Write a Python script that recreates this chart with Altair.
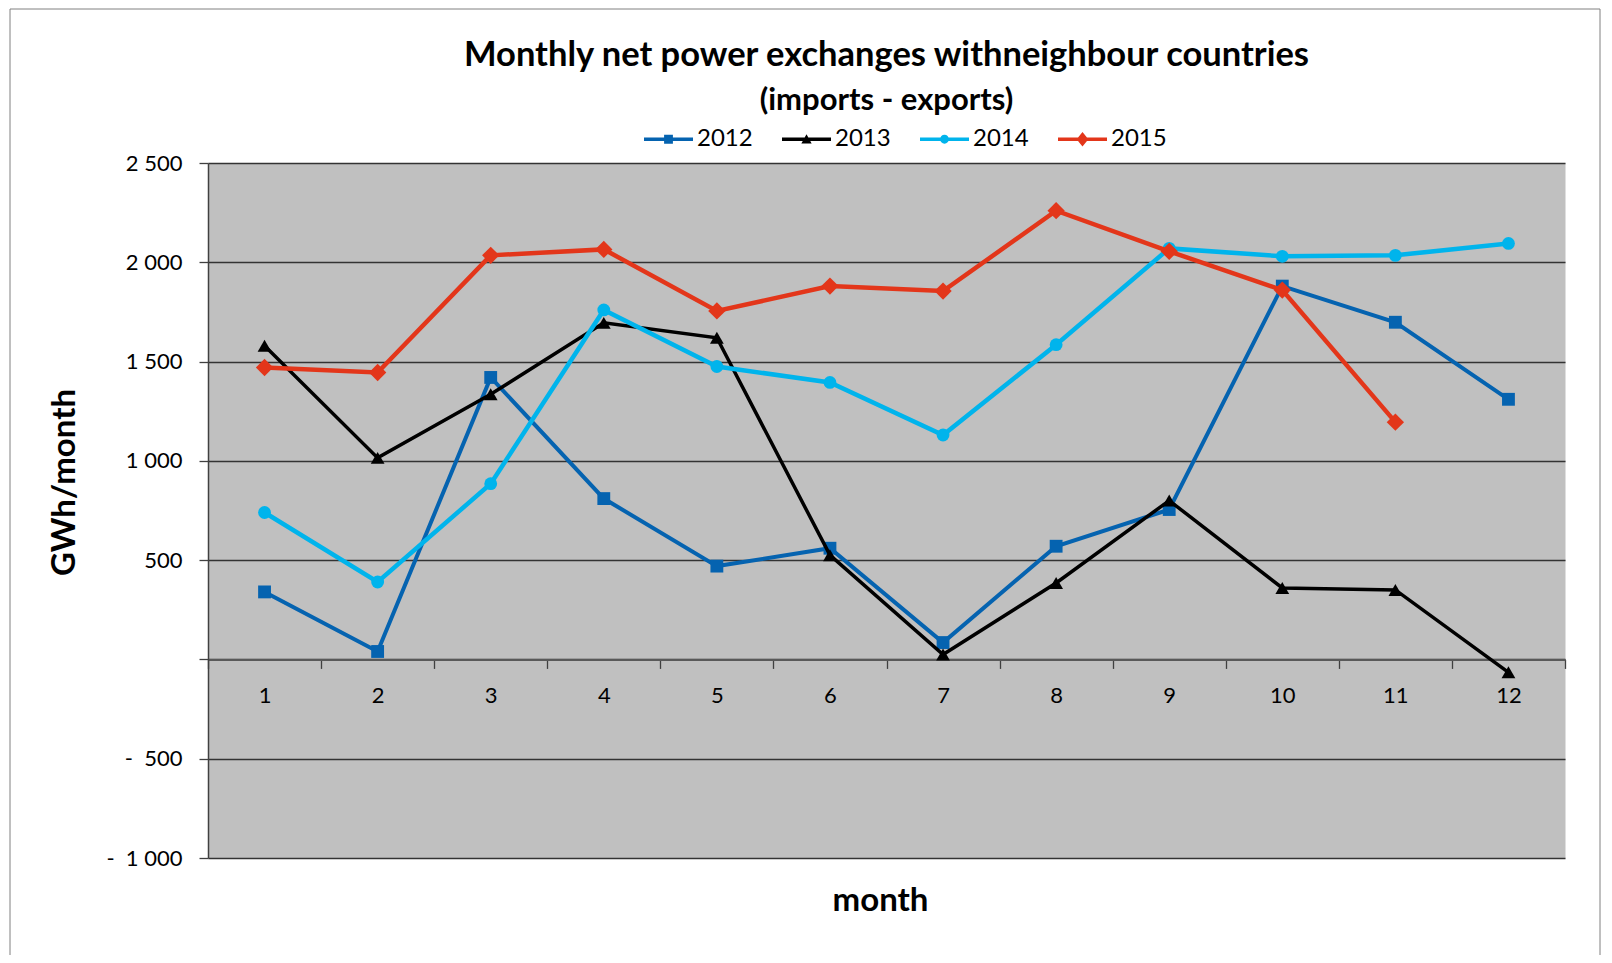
import altair as alt
import pandas as pd

# ---- data ----
months = list(range(1, 13))
years = ["2012", "2013", "2014", "2015"]
v2012 = [340, 40, 1420, 810, 470, 560, 85, 570, 755, 1880, 1698, 1310]
v2013 = [1580, 1015, 1335, 1695, 1620, 525, 25, 385, 800, 360, 350, -65]
v2014 = [740, 390, 885, 1760, 1475, 1395, 1130, 1585, 2070, 2030, 2035, 2095]
v2015 = [1470, 1445, 2035, 2065, 1755, 1880, 1855, 2260, 2055, 1860, 1195]
y_ticks = [-1000, -500, 0, 500, 1000, 1500, 2000, 2500]

series = [v2012, v2013, v2014, v2015]
rows = []
for yr, vals in zip(years, series):
    for m, v in zip(months, vals):
        rows.append({"month": m, "year": yr, "value": v})
df = pd.DataFrame(rows)

# ---- styles ----
colors = ["#0563B0", "#000000", "#00B4EC", "#E3361A"]
shapes = ["square", "triangle-up", "circle", "diamond"]
sizes = [165, 190, 165, 300]
widths = [4, 3.5, 4.5, 4.5]
line_legend = "M-1,-0.07H1V0.07H-1Z"
legend_paths = [
    line_legend + "M-0.18,-0.18H0.18V0.18H-0.18Z",
    line_legend + "M0,-0.2L0.21,0.17L-0.21,0.17Z",
    line_legend + "M-0.18,0A0.18,0.18 0 1,1 0.18,0A0.18,0.18 0 1,1 -0.18,0Z",
    line_legend + "M0,-0.3L0.24,0L0,0.3L-0.24,0Z",
]

W, H = 1357, 695
FONT = "Lato"
zero_offset = -H * 1000 / 3500

x_enc = alt.X(
    "month:O",
    bandPosition=0.5,
    scale=alt.Scale(type="band", paddingInner=0, paddingOuter=0),
    axis=alt.Axis(
        orient="bottom",
        offset=zero_offset,
        labelAngle=0,
        tickBand="extent",
        tickSize=9,
        tickColor="#404040",
        tickWidth=1.3,
        domainColor="#595959",
        domainWidth=2,
        labelFont=FONT,
        labelFontSize=22,
        labelColor="black",
        labelBaseline="middle",
        labelPadding=27,
        grid=False,
        title="month",
        titleFont=FONT,
        titleFontSize=33,
        titleFontWeight="bold",
        titleColor="black",
        titleX=672,
        titleY=251,
        titleBaseline="alphabetic",
        titleAlign="center",
    ),
)

y_label_expr = (
    "datum.value == 0 ? '' : (datum.value < 0 ? '-\u00a0\u00a0' + "
    "replace(format(-datum.value, ','), ',', '\u00a0') : "
    "replace(format(datum.value, ','), ',', '\u00a0'))"
)

y_enc = alt.Y(
    "value:Q",
    scale=alt.Scale(domain=[-1000, 2500], nice=False, zero=False),
    axis=alt.Axis(
        values=y_ticks,
        labelExpr=y_label_expr,
        labelFont=FONT,
        labelFontSize=22,
        labelColor="black",
        labelPadding=17,
        tickSize=9,
        tickColor="#404040",
        tickWidth=1.3,
        domainColor="#404040",
        domainWidth=1.5,
        grid=True,
        gridColor="#333333",
        gridWidth=1.4,
        title="GWh/month",
        titleFont=FONT,
        titleFontSize=33,
        titleFontWeight="bold",
        titleColor="black",
        titleAngle=270,
        titleX=-144,
        titleY=319,
        titleAlign="center",
        titleBaseline="middle",
    ),
)

base = alt.Chart(df)
layers = []

# outer chart frame (decoration)
frame = alt.Chart(pd.DataFrame({"f": [0]})).mark_rect(
    fillOpacity=0, stroke="#808080", strokeWidth=1, clip=False
).encode(
    x=alt.value(-198), x2=alt.value(1392), y=alt.value(-154), y2=alt.value(900)
)
layers.append(frame)

for yr, c, s, sz, w in zip(years, colors, shapes, sizes, widths):
    sub = base.transform_filter(alt.datum.year == yr)
    layers.append(sub.mark_line(color=c, strokeWidth=w).encode(x=x_enc, y=y_enc))
    layers.append(
        sub.mark_point(shape=s, filled=True, color=c, size=sz, opacity=1).encode(
            x=x_enc, y=y_enc
        )
    )

legend_layer = base.transform_filter("false").mark_point(
    filled=True, size=2401, opacity=1
).encode(
    x=x_enc,
    y=y_enc,
    color=alt.Color(
        "year:N",
        scale=alt.Scale(domain=years, range=colors),
        legend=alt.Legend(title=None),
    ),
    shape=alt.Shape(
        "year:N",
        scale=alt.Scale(domain=years, range=legend_paths),
        legend=alt.Legend(title=None),
    ),
)
layers.append(legend_layer)

chart = (
    alt.layer(*layers)
    .properties(
        width=W,
        height=H,
        autosize=alt.AutoSizeParams(type="none"),
        padding={"left": 200, "top": 155, "right": 36, "bottom": 97},
        title=alt.TitleParams(
            text="Monthly net power exchanges withneighbour countries",
            subtitle="(imports - exports)",
            font=FONT,
            fontSize=34.5,
            fontWeight="bold",
            color="black",
            subtitleFont=FONT,
            subtitleFontSize=31,
            subtitleFontWeight="bold",
            subtitleColor="black",
            subtitlePadding=12,
            anchor="middle",
            offset=-108,
        ),
    )
    .configure_view(fill="#C0C0C0", stroke="transparent")
    .configure_legend(
        orient="none",
        legendX=436,
        legendY=-48.5,
        direction="horizontal",
        symbolSize=2401,
        labelFont=FONT,
        labelFontSize=24,
        labelColor="black",
        labelOffset=4,
        columnPadding=29,
        symbolStrokeWidth=0,
    )
)

chart.save("out.html", embed_options={"renderer": "svg", "actions": False})
